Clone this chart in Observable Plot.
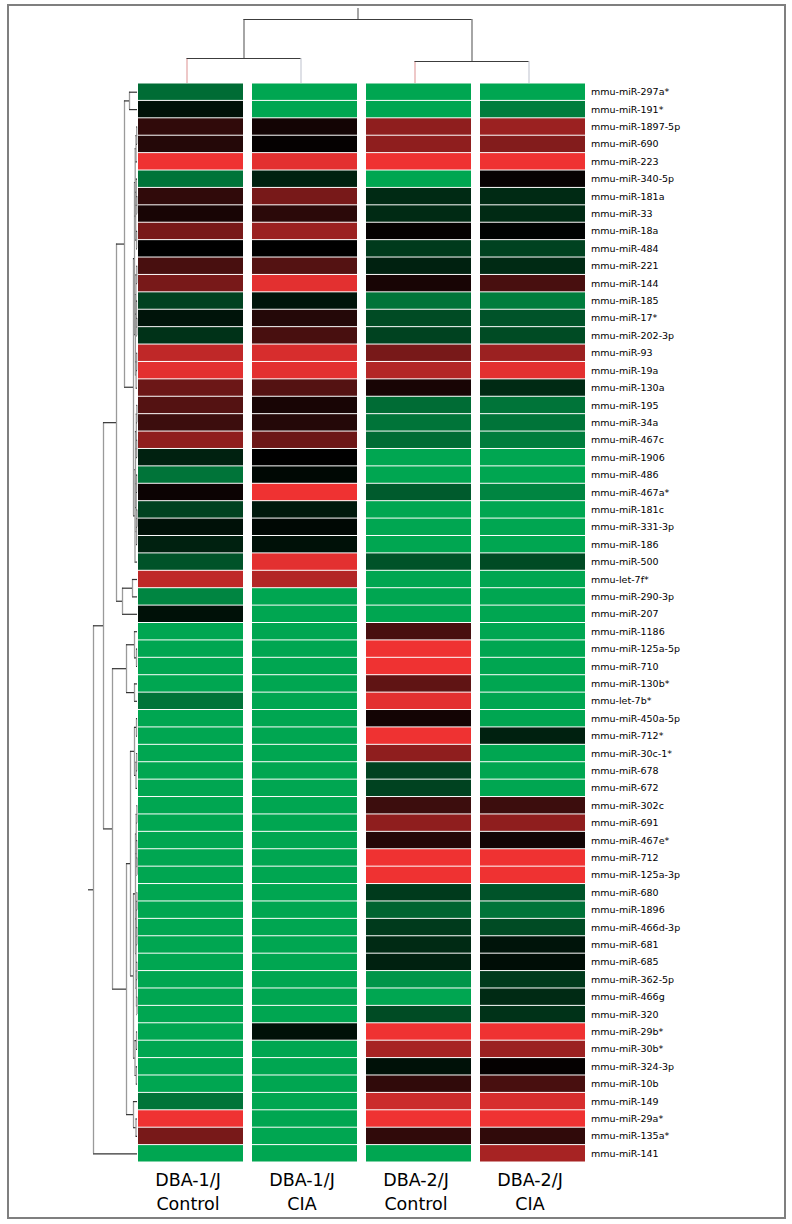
<!DOCTYPE html>
<html><head><meta charset="utf-8">
<script src="https://cdn.jsdelivr.net/npm/d3@7"></script>
<script src="https://cdn.jsdelivr.net/npm/@observablehq/plot@0.6"></script>
<style>
body{margin:0;background:#fff;}
#chart{position:relative;width:792px;height:1224px;font-family:"DejaVu Sans",sans-serif;}
#frame{position:absolute;left:7px;top:4px;width:779px;height:1215px;box-sizing:border-box;border:2px solid #7f7f7f;}
#chart svg{position:absolute;left:0;top:0;}
</style></head>
<body><div id="chart"><div id="frame"></div></div>
<script>
// ---------- data ----------
const genes = [
  "mmu-miR-297a*","mmu-miR-191*","mmu-miR-1897-5p","mmu-miR-690","mmu-miR-223","mmu-miR-340-5p",
  "mmu-miR-181a","mmu-miR-33","mmu-miR-18a","mmu-miR-484","mmu-miR-221","mmu-miR-144",
  "mmu-miR-185","mmu-miR-17*","mmu-miR-202-3p","mmu-miR-93","mmu-miR-19a","mmu-miR-130a",
  "mmu-miR-195","mmu-miR-34a","mmu-miR-467c","mmu-miR-1906","mmu-miR-486","mmu-miR-467a*",
  "mmu-miR-181c","mmu-miR-331-3p","mmu-miR-186","mmu-miR-500","mmu-let-7f*","mmu-miR-290-3p",
  "mmu-miR-207","mmu-miR-1186","mmu-miR-125a-5p","mmu-miR-710","mmu-miR-130b*","mmu-let-7b*",
  "mmu-miR-450a-5p","mmu-miR-712*","mmu-miR-30c-1*","mmu-miR-678","mmu-miR-672","mmu-miR-302c",
  "mmu-miR-691","mmu-miR-467e*","mmu-miR-712","mmu-miR-125a-3p","mmu-miR-680","mmu-miR-1896",
  "mmu-miR-466d-3p","mmu-miR-681","mmu-miR-685","mmu-miR-362-5p","mmu-miR-466g","mmu-miR-320",
  "mmu-miR-29b*","mmu-miR-30b*","mmu-miR-324-3p","mmu-miR-10b","mmu-miR-149","mmu-miR-29a*",
  "mmu-miR-135a*","mmu-miR-141"
];
const strains = ["DBA-1/J","DBA-1/J","DBA-2/J","DBA-2/J"];
const conditions = ["Control","CIA","Control","CIA"];

// relative expression: -1 = green (low), 0 = black, +1 = red (high)
const dba1Control = [-0.65,-0.1,0.2,0.15,1,-0.7,0.2,0.1,0.5,0,0.3,0.5,-0.4,-0.12,-0.3,0.8,0.95,0.45,0.35,0.25,0.6,-0.2,-0.7,0.05,-0.4,-0.1,-0.2,-0.5,0.8,-0.8,-0.1,
  -1,-1,-1,-1,-0.7,-1,-1,-1,-1,-1,-1,-1,-1,-1,-1,-1,-1,-1,-1,-1,-1,-1,-1,-1,-1,-1,-1,-0.7,1,0.5,-1];
const dba1CIA = [-1,-1,0.08,0.02,0.95,-0.2,0.5,0.18,0.65,0,0.35,0.95,-0.12,0.15,0.3,0.9,0.95,0.35,0.1,0.15,0.45,0,-0.05,1,-0.15,-0.05,-0.1,0.95,0.75,-1,-1,
  -1,-1,-1,-1,-1,-1,-1,-1,-1,-1,-1,-1,-1,-1,-1,-1,-1,-1,-1,-1,-1,-1,-1,-0.1,-1,-1,-1,-1,-1,-1,-1];
const dba2Control = [-1,-1,0.6,0.6,1,-1,-0.25,-0.25,0.02,-0.35,-0.2,0.1,-0.7,-0.45,-0.4,0.5,0.75,0.1,-0.65,-0.7,-0.65,-1,-1,-0.55,-1,-1,-1,-0.5,-1,-1,-1,
  0.3,1,1,0.4,0.95,0.08,1,0.6,-0.4,-0.4,0.25,0.6,0.15,1,1,-0.35,-0.6,-0.35,-0.25,-0.2,-0.9,-1,-0.45,1,0.7,-0.1,0.2,0.85,1,0.2,-1];
const dba2CIA = [-1,-0.75,0.65,0.55,1,0.03,-0.25,-0.25,-0.02,-0.4,-0.25,0.3,-0.75,-0.5,-0.45,0.65,0.95,-0.25,-0.7,-0.7,-0.75,-1,-1,-0.8,-1,-1,-1,-0.45,-1,-1,-1,
  -1,-1,-1,-1,-1,-1,-0.2,-1,-1,-1,0.25,0.6,0.08,1,1,-0.5,-0.7,-0.45,-0.12,-0.08,-0.35,-0.25,-0.3,1,0.65,0.02,0.3,0.9,1,0.2,0.7];
const seriesValues = [dba1Control, dba1CIA, dba2Control, dba2CIA];

// dendrograms: node = [left, right, mergeHeight], leaf = row/column index
const rowD1 = [[[[2,3,0.8],4,1.5],[[5,[6,7,0.6],1.2],[8,9,0.9],1.8],2.3],[[[10,11,0.7],[12,[13,14,0.6],1],1.6],[[15,16,0.8],17,1.4],2.1],3];
const rowG1 = [[[18,19,0.6],[20,21,0.8],1.2],[[22,23,0.9],[[24,25,0.5],26,0.9],1.3],2];
const rowF1 = [[[41,42,0.6],[43,[44,45,0.4],0.8],1.3],[[[46,47,0.5],[48,49,0.6],1],[[50,51,0.7],[52,53,0.5],1.1],1.5],2];
const rowB1 = [[0,1,8], [rowD1, [rowG1, 27, 2.5], 4], 13];
const rowB = [rowB1, [[28,29,5],30,15], 21];
const rowC1 = [[31,[32,33,1],3],[34,35,3],11];
const rowE1 = [[36,37,1],[[38,39,0.8],40,1.5],3];
const rowE2 = [rowF1, [[54,55,1],[56,57,1.2],2.5], 4];
const rowC2 = [[rowE1, rowE2, 7], [58,[59,60,1.5],4], 11];
const rowTree = [[rowB, [rowC1, rowC2, 25], 34], 61, 44];
const rowRootStub = 5;
const colTree = [[0,1,25],[2,3,22],64];
const colRootStub = 11;

// ---------- helpers ----------
function layoutTree(tree) {
  const drops = [], bars = [];
  function walk(node) {
    if (typeof node === "number") return {p: node, h: 0, leaf: true};
    const [l, r, h] = node;
    const a = walk(l), b = walk(r);
    drops.push({p: a.p, h1: a.h, h2: h, leaf: a.leaf, side: "left"});
    drops.push({p: b.p, h1: b.h, h2: h, leaf: b.leaf, side: "right"});
    bars.push({h, p1: a.p, p2: b.p});
    return {p: (a.p + b.p) / 2, h, leaf: false};
  }
  const root = walk(tree);
  return {drops, bars, root};
}

const W = 792, H = 1224;
const columns = strains.map((s, i) => s + "\n" + conditions[i]);
const cells = [];
genes.forEach((g, i) => seriesValues.forEach((vals, j) => cells.push({gene: g, col: columns[j], value: vals[i]})));

const font = "'DejaVu Sans', sans-serif";
const chart = document.getElementById("chart");

// ---------- heatmap ----------
const heat = Plot.plot({
  width: W, height: H,
  marginLeft: 133.5, marginRight: W - 589.5, marginTop: 83, marginBottom: 62,
  style: {background: "transparent", fontFamily: font, overflow: "visible"},
  x: {domain: columns, padding: 0, round: false, axis: null},
  y: {domain: genes, padding: 0, round: false, axis: null},
  color: {type: "linear", domain: [-1, 0, 1], range: ["#00a651", "#000000", "#ef3232"], interpolate: "rgb"},
  marks: [
    Plot.cell(cells, {x: "col", y: "gene", fill: "value", insetLeft: 4.5, insetRight: 4.5, insetTop: 0.5, insetBottom: 0.5}),
    Plot.axisY({anchor: "right", label: null, tickSize: 0, tickPadding: 1, fontSize: 9.5, fill: "#000"}),
    Plot.text(columns, {x: d => d, text: d => d, frameAnchor: "bottom", lineAnchor: "top", dy: 6, dx: -3,
      fontSize: 17.5, lineHeight: 1.4, fill: "#000"})
  ]
});
chart.appendChild(heat);

// ---------- row dendrogram ----------
const rowD = layoutTree(rowTree);
const rowDend = Plot.plot({
  width: W, height: H,
  marginLeft: 87, marginRight: W - 137, marginTop: 83, marginBottom: 62,
  style: {background: "transparent", overflow: "visible"},
  x: {domain: [0, 50], reverse: true, axis: null},
  y: {domain: [-0.5, genes.length - 0.5], reverse: true, axis: null},
  marks: [
    Plot.ruleX(rowD.bars, {x: "h", y1: "p1", y2: "p2", stroke: "#9a9a9a", strokeWidth: 1.3}),
    Plot.ruleY(rowD.drops, {y: "p", x1: "h1", x2: "h2", stroke: "#333", strokeWidth: 1.2}),
    Plot.ruleY([rowD.root], {y: "p", x1: "h", x2: d => d.h + rowRootStub, stroke: "#333", strokeWidth: 1.2})
  ]
});
chart.appendChild(rowDend);

// ---------- column dendrogram ----------
const colD = layoutTree(colTree);
const colDend = Plot.plot({
  width: W, height: H,
  marginLeft: 129.5, marginRight: W - 585.5, marginTop: 8, marginBottom: H - 83,
  style: {background: "transparent", overflow: "visible"},
  x: {domain: [-0.5, 3.5], axis: null},
  y: {domain: [0, 75], axis: null},
  marks: [
    Plot.ruleX(colD.drops, {x: "p", y1: "h1", y2: "h2", strokeWidth: 1.2,
      stroke: d => d.leaf ? (d.side === "left" ? "#e3a3a3" : "#c8ccd6") : "#6a6a6a"}),
    Plot.ruleY(colD.bars, {y: "h", x1: "p1", x2: "p2", stroke: "#3c3c3c", strokeWidth: 1.2}),
    Plot.ruleX([colD.root], {x: "p", y1: "h", y2: d => d.h + colRootStub, stroke: "#6a6a6a", strokeWidth: 1.2})
  ]
});
chart.appendChild(colDend);
</script>
</body></html>
